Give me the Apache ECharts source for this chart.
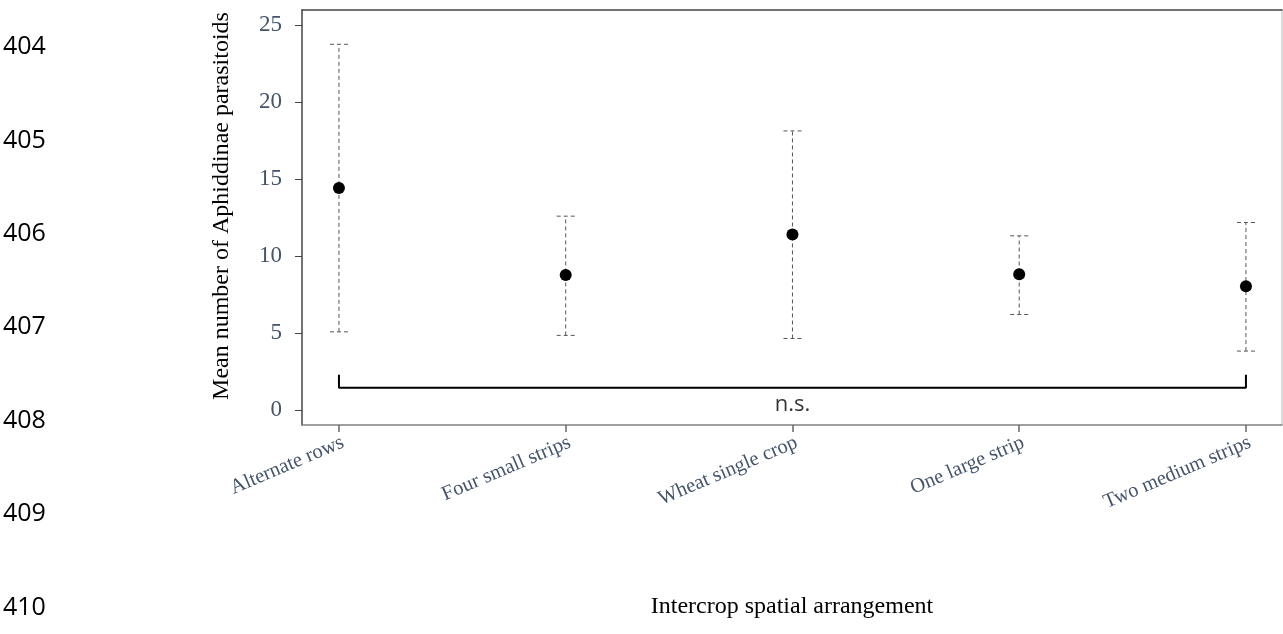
<!DOCTYPE html>
<html>
<head>
<meta charset="utf-8">
<script src="https://cdn.jsdelivr.net/npm/echarts@6/dist/echarts.min.js"></script>
<style>
html,body{margin:0;padding:0;background:#fff;}
#chart{width:1283px;height:634px;}
</style>
</head>
<body>
<div id="chart"></div>
<script>
// ---- data ----
var categories = ['Alternate rows', 'Four small strips', 'Wheat single crop', 'One large strip', 'Two medium strips'];
var means = [14.43, 8.77, 11.41, 8.83, 8.05];
var lower = [5.08, 4.85, 4.65, 6.21, 3.83];
var upper = [23.77, 12.6, 18.14, 11.32, 12.19];
var yTicks = [0, 5, 10, 15, 20, 25];
var bracketLow = 1.45;
var bracketHigh = 2.3;
var lineNumbers = ['404', '405', '406', '407', '408', '409', '410'];
var yTitle = 'Mean number of Aphiddinae parasitoids';
var xTitle = 'Intercrop spatial arrangement';

var serif = '"Liberation Serif", "DejaVu Serif", serif';
var sans = '"Open Sans", Lato, "Liberation Sans", sans-serif';
var slate = '#44546A';

var idx = categories.map(function (c, i) { return i; });
var meanData = means.map(function (m, i) { return [i, m]; });
var errData = means.map(function (m, i) { return [i, lower[i], upper[i]]; });
var bracketData = [[0, bracketHigh], [0, bracketLow], [categories.length - 1, bracketLow], [categories.length - 1, bracketHigh]];

var chart = echarts.init(document.getElementById('chart'), null, {renderer: 'canvas'});

var graphics = lineNumbers.map(function (t, i) {
  return {
    type: 'text', x: 3, y: 47 + i * 93.4,
    style: {text: t, font: '25px ' + sans, fill: '#000', verticalAlign: 'middle'}
  };
});
graphics.push({
  type: 'text', x: 222, y: 206, rotation: Math.PI / 2,
  style: {text: yTitle, font: '24px ' + serif, fill: '#000', align: 'center', verticalAlign: 'middle'}
});

var option = {
  animation: false,
  backgroundColor: '#fff',
  graphic: graphics,
  grid: {left: 302, right: 1, top: 10, bottom: 209, containLabel: false},
  xAxis: [{
    type: 'value', min: -0.163, max: 4.159,
    splitLine: {show: false},
    axisLine: {show: true, onZero: false, lineStyle: {color: '#808080', width: 1.5}},
    axisTick: {show: true, customValues: idx, length: 7, lineStyle: {color: '#666', width: 1.5}},
    axisLabel: {
      customValues: idx, rotate: 23, margin: 7, verticalAlign: 'top',
      formatter: function (v) { return categories[Math.round(v)] || ''; },
      fontFamily: serif, fontSize: 20.5, color: slate
    },
    name: xTitle, nameLocation: 'middle', nameGap: 170,
    nameTextStyle: {fontFamily: serif, fontSize: 24, color: '#000'}
  }, {
    type: 'value', position: 'top', min: -0.163, max: 4.159,
    splitLine: {show: false}, axisTick: {show: false}, axisLabel: {show: false},
    axisLine: {show: true, onZero: false, lineStyle: {color: '#444', width: 1.5}}
  }],
  yAxis: [{
    type: 'value', min: -0.974, max: 26.0,
    splitLine: {show: false},
    axisLine: {show: true, onZero: false, lineStyle: {color: '#444', width: 1.5}},
    axisTick: {show: true, customValues: yTicks, length: 7, lineStyle: {color: '#444', width: 1}},
    axisLabel: {customValues: yTicks, margin: 20, fontFamily: serif, fontSize: 23, color: slate}
  }, {
    type: 'value', position: 'right', min: -0.974, max: 26.0,
    splitLine: {show: false}, axisTick: {show: false}, axisLabel: {show: false},
    axisLine: {show: true, onZero: false, lineStyle: {color: '#d0d0d0', width: 1.5}}
  }],
  series: [{
    type: 'custom',
    data: errData,
    encode: {x: 0, y: [1, 2]},
    silent: true,
    renderItem: function (params, api) {
      var x = api.value(0);
      var lo = api.coord([x, api.value(1)]);
      var hi = api.coord([x, api.value(2)]);
      var hw = 9;
      var style = {stroke: '#555', lineWidth: 1, lineDash: [4, 3], fill: null};
      return {
        type: 'group',
        children: [
          {type: 'line', shape: {x1: lo[0], y1: lo[1], x2: hi[0], y2: hi[1]}, style: style},
          {type: 'line', shape: {x1: lo[0] - hw, y1: lo[1], x2: lo[0] + hw, y2: lo[1]}, style: style},
          {type: 'line', shape: {x1: hi[0] - hw, y1: hi[1], x2: hi[0] + hw, y2: hi[1]}, style: style}
        ]
      };
    },
    z: 2
  }, {
    type: 'scatter',
    data: meanData,
    symbol: 'circle', symbolSize: 12,
    itemStyle: {color: '#000', opacity: 1},
    z: 3
  }, {
    type: 'line',
    data: bracketData,
    symbol: 'none',
    lineStyle: {color: '#000', width: 2},
    z: 3
  }, {
    type: 'scatter',
    data: [[(categories.length - 1) / 2, bracketLow]],
    symbolSize: 0,
    label: {show: true, formatter: 'n.s.', position: 'bottom', distance: 6,
      fontFamily: sans, fontSize: 22, color: '#000'},
    z: 3
  }]
};
chart.setOption(option);
</script>
</body>
</html>
